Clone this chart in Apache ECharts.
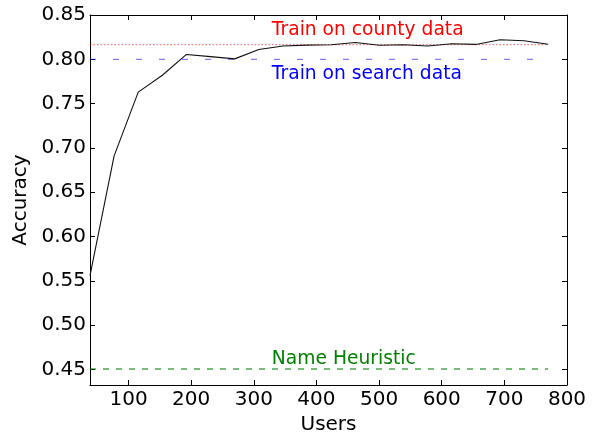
<!DOCTYPE html>
<html>
<head>
<meta charset="utf-8">
<script src="https://cdn.jsdelivr.net/npm/echarts@6/dist/echarts.min.js"></script>
<style>
  html, body { margin: 0; padding: 0; background: #fff; }
  #chart { width: 597px; height: 436px; }
</style>
</head>
<body>
<div id="chart"></div>
<script>
// users on the x axis
const users = [38.5, 77, 115.5, 154, 192.5, 231, 269.5, 308, 346.5, 385,
  423.5, 462, 500.5, 539, 577.5, 616, 654.5, 693, 731.5, 770]
// accuracy of the learning curve
const accuracy = [0.556, 0.691, 0.763, 0.782, 0.8055, 0.803, 0.8005, 0.811, 0.815, 0.816,
  0.8165, 0.819, 0.8158, 0.8165, 0.815, 0.8175, 0.8168, 0.822, 0.821, 0.817]
// reference levels
const countyLevel = 0.8165
const searchLevel = 0.80
const heuristicLevel = 0.4505
// annotation labels [x, y, text, colour]
const labels = [
  [328, 0.833, 'Train on county data', '#ff0000'],
  [328, 0.783, 'Train on search data', '#0000ff'],
  [328, 0.4615, 'Name Heuristic', '#008000']
]

const font = 'DejaVu Sans'
const chart = echarts.init(document.getElementById('chart'))

const flat = (v) => [[users[0], v], [users[users.length - 1], v]]

const series = [
  {
    type: 'line',
    data: flat(countyLevel),
    symbol: 'none',
    lineStyle: { color: 'rgba(255,0,0,0.5)', width: 1.2, type: [1.5, 2] },
    z: 2
  },
  {
    type: 'line',
    data: flat(searchLevel),
    symbol: 'none',
    lineStyle: { color: 'rgba(0,0,255,0.5)', width: 1.2, type: [6, 17] },
    z: 2
  },
  {
    type: 'line',
    data: flat(heuristicLevel),
    symbol: 'none',
    lineStyle: { color: 'rgba(0,128,0,0.7)', width: 1.5, type: [6, 7] },
    z: 2
  },
  {
    type: 'line',
    data: users.map((u, i) => [u, accuracy[i]]),
    symbol: 'none',
    lineStyle: { color: '#111', width: 1.1 },
    z: 3
  }
]

labels.forEach((l) => {
  series.push({
    type: 'scatter',
    data: [{ value: [l[0], l[1]], name: l[2] }],
    symbolSize: 1,
    itemStyle: { color: 'rgba(0,0,0,0)', opacity: 1 },
    silent: true,
    label: {
      show: true,
      position: 'right',
      distance: 0,
      formatter: '{b}',
      color: l[3],
      opacity: 1,
      fontFamily: font,
      fontSize: 18.7
    }
  })
})

const tickStyle = { inside: true, length: 5, lineStyle: { color: '#000' } }
const lineStyle = { lineStyle: { color: '#000', width: 1 } }

chart.setOption({
  animation: false,
  grid: { left: 90, right: 30, top: 15, bottom: 51, outerBoundsMode: 'none', containLabel: false },
  xAxis: [
    {
      type: 'value',
      min: 38.5,
      max: 800,
      splitNumber: 8,
      name: 'Users',
      nameLocation: 'middle',
      nameGap: 30,
      nameTextStyle: { fontFamily: font, fontSize: 20, color: '#000' },
      axisLine: lineStyle,
      axisTick: tickStyle,
      splitLine: { show: false },
      axisLabel: {
        showMinLabel: false,
        margin: 5,
        fontFamily: font,
        fontSize: 20,
        color: '#000',
        formatter: (v) => (v % 100 === 0 ? String(v) : '')
      }
    },
    {
      type: 'value',
      position: 'top',
      min: 38.5,
      max: 800,
      splitNumber: 8,
      axisLine: lineStyle,
      axisTick: tickStyle,
      axisLabel: { show: false },
      splitLine: { show: false }
    }
  ],
  yAxis: [
    {
      type: 'value',
      min: 0.4325,
      max: 0.85,
      splitNumber: 8,
      name: 'Accuracy',
      nameLocation: 'middle',
      nameGap: 57,
      nameTextStyle: { fontFamily: font, fontSize: 20, color: '#000' },
      axisLine: { show: true, lineStyle: { color: '#000', width: 1 } },
      axisTick: { show: true, inside: true, length: 5, lineStyle: { color: '#000' } },
      splitLine: { show: false },
      axisLabel: {
        showMinLabel: false,
        margin: 4,
        fontFamily: font,
        fontSize: 20,
        color: '#000',
        formatter: (v) => v.toFixed(2)
      }
    },
    {
      type: 'value',
      position: 'right',
      min: 0.4325,
      max: 0.85,
      splitNumber: 8,
      axisLine: { show: true, lineStyle: { color: '#000', width: 1 } },
      axisTick: { show: true, inside: true, length: 5, lineStyle: { color: '#000' } },
      axisLabel: { show: false },
      splitLine: { show: false }
    }
  ],
  series
})
</script>
</body>
</html>
